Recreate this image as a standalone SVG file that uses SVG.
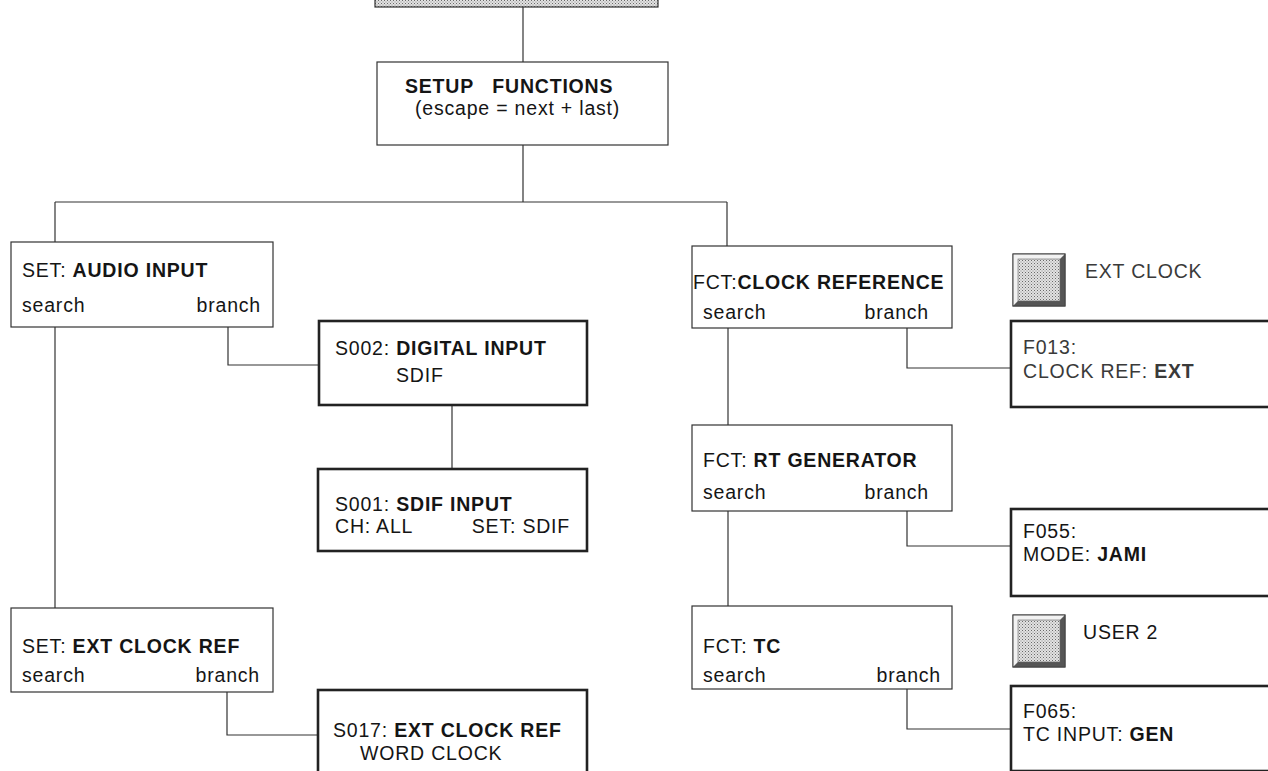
<svg xmlns="http://www.w3.org/2000/svg" xmlns:xlink="http://www.w3.org/1999/xlink" width="1268" height="771" viewBox="0 0 1268 771">
<style>
text{font-family:"Liberation Sans",Arial,sans-serif;font-size:19.5px;letter-spacing:0.8px;fill:#151515}
.b{font-weight:bold}
.grey{fill:#3a3a3a}
.box{fill:#fff;stroke:#333;stroke-width:1.2}
.tbox{fill:#fff;stroke:#222;stroke-width:2.6}
.con{fill:none;stroke:#333;stroke-width:1.2}
</style>
<defs>
<pattern id="dots" width="3" height="3" patternUnits="userSpaceOnUse">
<rect width="3" height="3" fill="#e2e2e2"/>
<rect width="1" height="1" fill="#6a6a6a"/>
<rect x="1.5" y="1.5" width="1" height="1" fill="#8a8a8a"/>
</pattern>
<g id="btn">
<rect x="0" y="0" width="52" height="52" fill="#bbb" stroke="#444" stroke-width="1"/>
<polygon points="0,0 52,0 47,5 5,5 5,47 0,52" fill="#f2f2f2"/>
<polygon points="52,0 52,52 0,52 5,47 47,47 47,5" fill="#555"/>
<rect x="5" y="5" width="42" height="42" fill="url(#dots)" stroke="#666" stroke-width="0.6"/>
<rect x="0" y="0" width="52" height="52" fill="none" stroke="#444" stroke-width="1"/>
</g>
</defs>
<rect width="1268" height="771" fill="#fff"/>

<g id="connectors">
<path class="con" d="M523 7V62"/>
<path class="con" d="M523 145V202M55 202H727"/>
<path class="con" d="M55 202V242"/>
<path class="con" d="M727 202V246"/>
<path class="con" d="M55 327V608"/>
<path class="con" d="M228 327V365H319"/>
<path class="con" d="M452 405V469"/>
<path class="con" d="M227 692V735H318"/>
<path class="con" d="M728 328V425"/>
<path class="con" d="M907 328V368H1011"/>
<path class="con" d="M728 511V606"/>
<path class="con" d="M907 511V546H1011"/>
<path class="con" d="M907 689V729H1011"/>
</g>

<g id="top-key">
<rect x="375" y="-6" width="283" height="13" fill="url(#dots)" stroke="#333" stroke-width="1.2"/>
</g>

<g id="setup-functions">
<rect class="box" x="377" y="62" width="291" height="83"/>
<text x="405" y="93" class="b" xml:space="preserve">SETUP   FUNCTIONS</text>
<text x="415" y="115">(escape = next + last)</text>
</g>

<g id="set-audio-input">
<rect class="box" x="11" y="242" width="262" height="85"/>
<text x="22" y="277">SET: <tspan class="b">AUDIO INPUT</tspan></text>
<text x="22" y="312">search</text>
<text x="261" y="312" text-anchor="end">branch</text>
</g>

<g id="s002-digital-input">
<rect class="tbox" x="319" y="321" width="268" height="84"/>
<text x="335" y="355">S002: <tspan class="b">DIGITAL INPUT</tspan></text>
<text x="396" y="382">SDIF</text>
</g>

<g id="s001-sdif-input">
<rect class="tbox" x="318" y="469" width="269" height="82"/>
<text x="335" y="511">S001: <tspan class="b">SDIF INPUT</tspan></text>
<text x="335" y="533">CH: ALL</text>
<text x="570" y="533" text-anchor="end">SET: SDIF</text>
</g>

<g id="set-ext-clock-ref">
<rect class="box" x="11" y="608" width="262" height="84"/>
<text x="22" y="653">SET: <tspan class="b">EXT CLOCK REF</tspan></text>
<text x="22" y="682">search</text>
<text x="260" y="682" text-anchor="end">branch</text>
</g>

<g id="s017-ext-clock-ref">
<rect class="tbox" x="318" y="690" width="269" height="90"/>
<text x="333" y="737">S017: <tspan class="b">EXT CLOCK REF</tspan></text>
<text x="360" y="760">WORD CLOCK</text>
</g>

<g id="fct-clock-reference">
<rect class="box" x="692" y="246" width="260" height="82"/>
<text x="693" y="289" letter-spacing="0.9">FCT:<tspan class="b">CLOCK REFERENCE</tspan></text>
<text x="703" y="319">search</text>
<text x="929" y="319" text-anchor="end">branch</text>
</g>

<g id="btn-ext-clock">
<use xlink:href="#btn" x="1013" y="254"/>
<text x="1085" y="278" class="grey">EXT CLOCK</text>
</g>

<g id="f013-clock-ref">
<rect class="tbox" x="1011" y="321" width="270" height="86"/>
<text x="1023" y="354" class="grey">F013:</text>
<text x="1023" y="378" class="grey">CLOCK REF: <tspan class="b">EXT</tspan></text>
</g>

<g id="fct-rt-generator">
<rect class="box" x="692" y="425" width="260" height="86"/>
<text x="703" y="467">FCT: <tspan class="b">RT GENERATOR</tspan></text>
<text x="703" y="499">search</text>
<text x="929" y="499" text-anchor="end">branch</text>
</g>

<g id="f055-mode">
<rect class="tbox" x="1011" y="509" width="270" height="87"/>
<text x="1023" y="538">F055:</text>
<text x="1023" y="561">MODE: <tspan class="b">JAMI</tspan></text>
</g>

<g id="fct-tc">
<rect class="box" x="692" y="606" width="260" height="83"/>
<text x="703" y="653">FCT: <tspan class="b">TC</tspan></text>
<text x="703" y="682">search</text>
<text x="941" y="682" text-anchor="end">branch</text>
</g>

<g id="btn-user2">
<use xlink:href="#btn" x="1013" y="615"/>
<text x="1083" y="639">USER 2</text>
</g>

<g id="f065-tc-input">
<rect class="tbox" x="1011" y="686" width="270" height="85"/>
<text x="1023" y="718">F065:</text>
<text x="1023" y="741">TC INPUT: <tspan class="b">GEN</tspan></text>
</g>
</svg>
